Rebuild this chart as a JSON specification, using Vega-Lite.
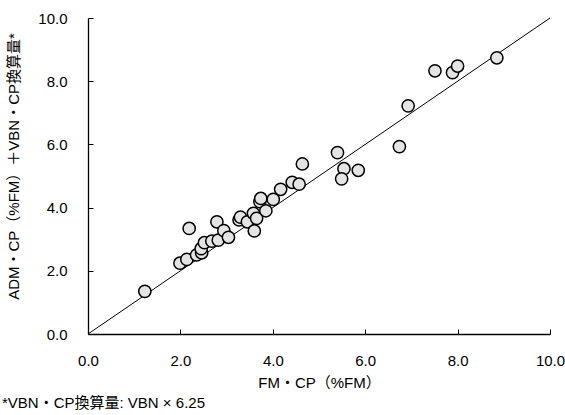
{
  "$schema": "https://vega.github.io/schema/vega-lite/v6.json",
  "width": 462,
  "height": 316,
  "autosize": {"type": "none"},
  "padding": {"left": 88, "top": 18, "right": 15, "bottom": 81},
  "background": "white",
  "config": {
    "view": {"stroke": null},
    "font": "Liberation Sans, Noto Sans CJK JP",
    "axis": {
      "grid": false,
      "domainColor": "#000",
      "domainWidth": 1.3,
      "tickColor": "#000",
      "tickSize": -5,
      "labelFlush": false,
      "labelFont": "Liberation Sans",
      "labelFontSize": 15,
      "labelColor": "#000",
      "titleFont": "Liberation Sans, Noto Sans CJK JP",
      "titleFontSize": 15,
      "titleFontWeight": "normal",
      "titleColor": "#000"
    }
  },
  "title": {
    "text": "*VBN・CP換算量: VBN × 6.25",
    "orient": "bottom",
    "anchor": "start",
    "frame": "bounds",
    "font": "Liberation Sans, Noto Sans CJK JP",
    "fontSize": 15,
    "fontWeight": "normal",
    "color": "#000",
    "offset": 6,
    "dx": -4
  },
  "datasets": {
    "pts": [
      {"fm": 1.23, "adm": 1.35},
      {"fm": 1.99, "adm": 2.24},
      {"fm": 2.14, "adm": 2.36},
      {"fm": 2.19, "adm": 3.34},
      {"fm": 2.35, "adm": 2.50},
      {"fm": 2.46, "adm": 2.57},
      {"fm": 2.45, "adm": 2.70},
      {"fm": 2.52, "adm": 2.89},
      {"fm": 2.68, "adm": 2.94},
      {"fm": 2.79, "adm": 3.55},
      {"fm": 2.82, "adm": 2.97},
      {"fm": 2.94, "adm": 3.27},
      {"fm": 3.04, "adm": 3.06},
      {"fm": 3.27, "adm": 3.61},
      {"fm": 3.30, "adm": 3.70},
      {"fm": 3.45, "adm": 3.55},
      {"fm": 3.58, "adm": 3.82},
      {"fm": 3.60, "adm": 3.26},
      {"fm": 3.65, "adm": 3.66},
      {"fm": 3.72, "adm": 4.19},
      {"fm": 3.74, "adm": 4.29},
      {"fm": 3.85, "adm": 3.90},
      {"fm": 4.01, "adm": 4.26},
      {"fm": 4.17, "adm": 4.58},
      {"fm": 4.42, "adm": 4.80},
      {"fm": 4.57, "adm": 4.74},
      {"fm": 4.64, "adm": 5.38},
      {"fm": 5.40, "adm": 5.74},
      {"fm": 5.54, "adm": 5.23},
      {"fm": 5.49, "adm": 4.91},
      {"fm": 5.85, "adm": 5.18},
      {"fm": 6.74, "adm": 5.93},
      {"fm": 6.93, "adm": 7.22},
      {"fm": 7.51, "adm": 8.33},
      {"fm": 7.89, "adm": 8.27},
      {"fm": 8.00, "adm": 8.48},
      {"fm": 8.85, "adm": 8.74}
    ],
    "line": [
      {"fm": 0, "adm": 0},
      {"fm": 10, "adm": 10}
    ]
  },
  "encoding": {
    "x": {
      "field": "fm",
      "type": "quantitative",
      "scale": {"domain": [0, 10], "nice": false, "zero": true},
      "axis": {
        "title": "FM・CP（%FM）",
        "values": [0, 2, 4, 6, 8, 10],
        "format": ".1f",
        "labelPadding": 24,
        "titleX": 231,
        "titleY": 48,
        "titleBaseline": "middle"
      }
    },
    "y": {
      "field": "adm",
      "type": "quantitative",
      "scale": {"domain": [0, 10], "nice": false, "zero": true},
      "axis": {
        "title": "ADM・CP（%FM）＋VBN・CP換算量*",
        "values": [0, 2, 4, 6, 8, 10],
        "format": ".1f",
        "labelPadding": 26,
        "titleX": -75,
        "titleY": 148,
        "titleAngle": -90,
        "titleAlign": "center",
        "titleBaseline": "middle"
      }
    }
  },
  "layer": [
    {
      "data": {"name": "line"},
      "mark": {"type": "line", "color": "#000", "strokeWidth": 1},
      "encoding": {}
    },
    {
      "data": {"name": "pts"},
      "mark": {"type": "point", "shape": "circle", "filled": true, "size": 150, "fill": "#e4e4e4", "stroke": "#000", "strokeWidth": 1.5, "opacity": 1, "fillOpacity": 1}
    }
  ]
}
